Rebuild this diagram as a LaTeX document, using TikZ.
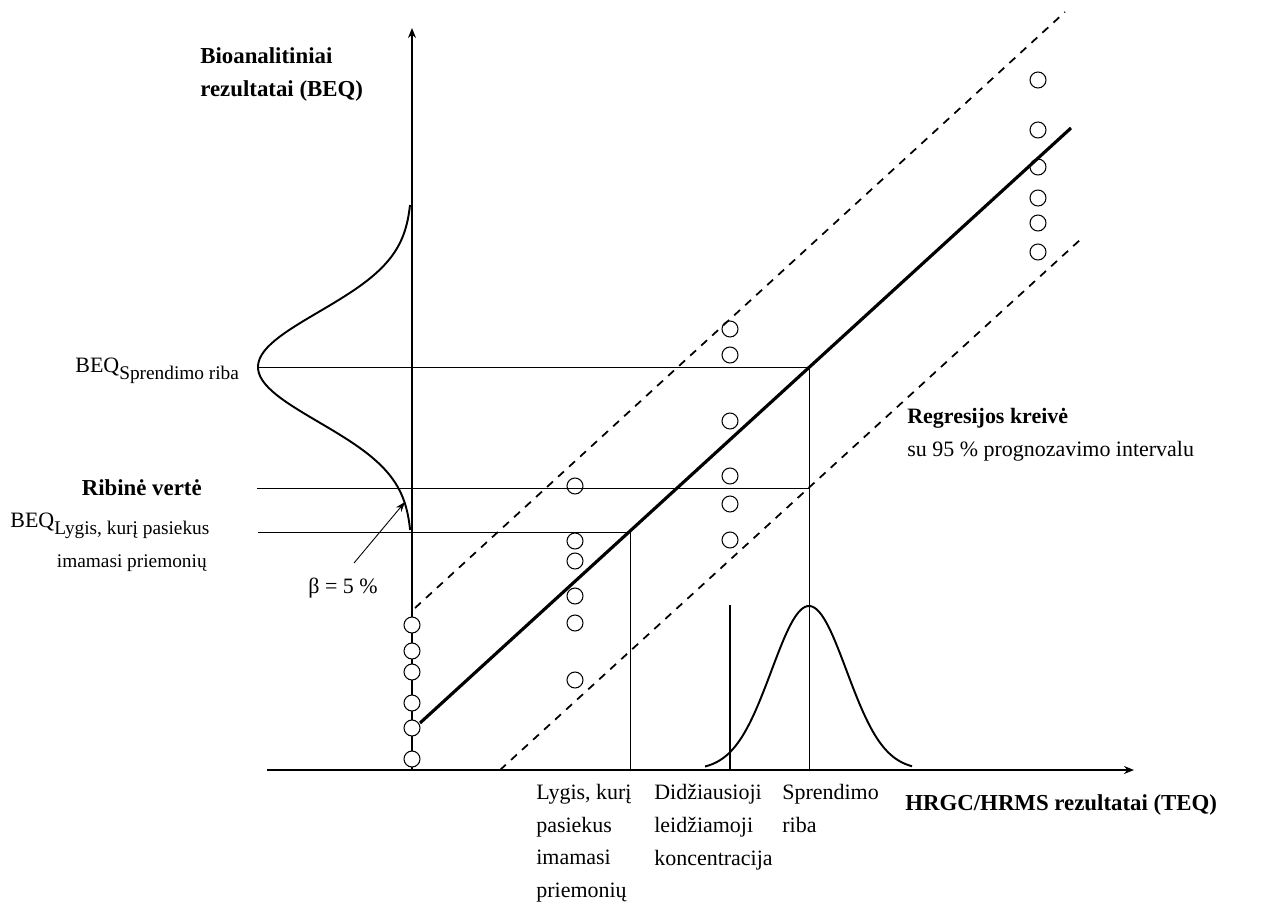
\documentclass[tikz,border=0pt]{standalone}
\usepackage{fontspec}
\setmainfont{Liberation Serif}
\usetikzlibrary{arrows.meta,positioning,calc}

\newcommand{\lowtext}[1]{\raisebox{-4pt}{\fontsize{11}{15}\selectfont #1}}

\begin{document}
\begin{tikzpicture}[x=0.02cm, y=-0.02cm,
  axis/.style={line width=1pt, -{Stealth[length=2mm, width=1.6mm]}},
  guide/.style={line width=0.5pt},
  regline/.style={line width=1.8pt},
  band/.style={line width=1pt, dash pattern=on 4.5pt off 4pt},
  bell/.style={line width=1.1pt},
  pt/.style={circle, draw, line width=0.6pt, fill=white,
             minimum size=0.32cm, inner sep=0pt},
  lbl/.style={font=\fontsize{12.5}{18.6}\selectfont, inner sep=0pt, align=left},
  bold/.style={lbl, font=\fontsize{13}{19}\selectfont\bfseries}
]
\useasboundingbox (0,0) rectangle (1285,903);

% axes
\coordinate (O)    at (412,770);
\coordinate (ytop) at (412,28);
\coordinate (xl)   at (267,770);
\coordinate (xr)   at (1134,770);
\draw[axis] (O) -- (ytop);
\draw[axis] (xl) -- (xr);

% distributions
\draw[bell] plot[domain=205:530, samples=90]
  ({412-154*exp(-0.5*((\x-367)/55)^2)}, {\x});
\draw[bell] plot[domain=705:912, samples=90]
  ({\x}, {770-164*exp(-0.5*((\x-809)/37.5)^2)});

% data points
\foreach \y [count=\i] in {625,651,672,703,728,759}
  \node[pt] (a\i) at (412,\y) {};
\foreach \y [count=\i] in {486,541,561,596,623,680}
  \node[pt] (b\i) at (575,\y) {};
\foreach \y [count=\i] in {329,355,421,476,504,540}
  \node[pt] (c\i) at (730,\y) {};
\foreach \y [count=\i] in {80,130,167,198,223,252}
  \node[pt] (d\i) at (1038,\y) {};

% guide lines
\coordinate (sr)   at (809,367);
\coordinate (sr-l) at (257,367);
\coordinate (sr-b) at (809,770);
\coordinate (rv-l) at (257,488);
\coordinate (rv-r) at (809,488);
\coordinate (lg)   at (630,532);
\coordinate (lg-l) at (258,532);
\coordinate (lg-b) at (630,770);
\draw[guide] (sr-l) -- (sr) -- (sr-b);
\draw[guide] (rv-l) -- (rv-r);
\draw[guide] (lg-l) -- (lg) -- (lg-b);
\coordinate (dl)   at (730,605);
\coordinate (dl-b) at (730,770);
\draw[line width=1.6pt] (dl) -- (dl-b);

% regression with band
\coordinate (reg-a) at (420,723);
\coordinate (reg-b) at (1071,128);
\coordinate (up-a)  at (415,608);
\coordinate (up-b)  at (1065,12);
\coordinate (lo-a)  at (500,770);
\coordinate (lo-b)  at (1081,239);
\draw[regline] (reg-a) -- (reg-b);
\draw[band] (up-a) -- (up-b);
\draw[band] (lo-a) -- (lo-b);

% beta
\node[lbl, anchor=base west] (beta) at (308,593) {β = 5 \%};
\coordinate (beta-tail) at (354,563);
\coordinate (beta-tip)  at (405,502);
\draw[guide, -{Stealth[length=2mm, width=1.4mm]}] (beta-tail) -- (beta-tip);

% labels
\node[bold, anchor=north west] (ylab) at (200,47) {Bioanalitiniai\\rezultatai (BEQ)};
\node[lbl, anchor=base west] (beq-sr) at (75,372) {BEQ\lowtext{Sprendimo riba}};
\node[bold, left=1.1cm of rv-l, anchor=east] (rv) {Ribinė vertė};
\node[lbl, anchor=base west] (beq-lg) at (10,527) {BEQ\lowtext{Lygis, kurį pasiekus}};
\node[lbl, anchor=base east, font=\fontsize{11}{15}\selectfont] (beq-lg2) at (207,567)
  {imamasi priemonių};
\node[lbl, anchor=north west] (t-lg) at (536,784) {Lygis, kurį\\pasiekus\\imamasi\\priemonių};
\node[lbl, anchor=north west] (t-dl) at (654,784) {Didžiausioji\\leidžiamoji\\koncentracija};
\node[lbl, anchor=north west] (t-sr) at (782,784) {Sprendimo\\riba};
\node[bold, anchor=base west] (xlab) at (905,810) {HRGC/HRMS rezultatai (TEQ)};
\node[lbl, anchor=north west] (reg) at (907,408)
  {\textbf{Regresijos kreivė}\\su 95 \% prognozavimo intervalu};
\end{tikzpicture}
\end{document}
